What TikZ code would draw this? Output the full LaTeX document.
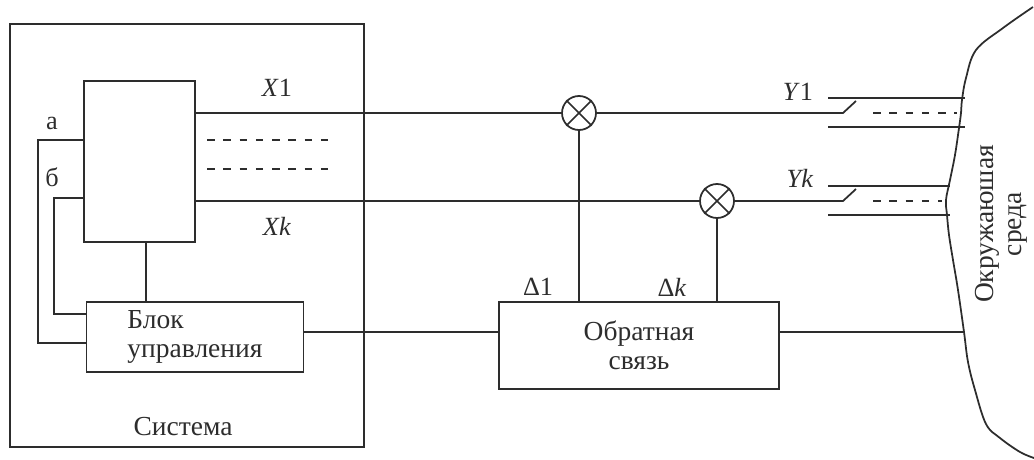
\documentclass[tikz,border=0pt]{standalone}
\usepackage{fontspec}
\setmainfont{Liberation Serif}
\usetikzlibrary{positioning}

\definecolor{ink}{RGB}{45,45,45}

\begin{document}
\begin{tikzpicture}[x=0.4pt, y=-0.4pt, ink, line width=0.7pt,
  every node/.style={font=\fontsize{11}{11.6}\selectfont, text=ink},
  box/.style={rectangle, draw, inner sep=1pt},
  mix/.style={circle, draw, minimum size=13.6pt, inner sep=0pt},
  lbl/.style={inner sep=1pt, font=\fontsize{10.5}{12}\selectfont},
  dsh/.style={dash pattern=on 3pt off 3.5pt}]
  \useasboundingbox (0,0) rectangle (1034,460);
  % System frame with the object and the control block
  \node[box, minimum width=141.6pt, minimum height=169.2pt] (sys) at (187,235.5) {};
  \node (systxt) at (183,427) {Система};
  \node[box, minimum width=44.4pt, minimum height=64.4pt] (obj) at (139.5,161.5) {};
  \node[box, minimum width=86.8pt, minimum height=28pt, align=left] (ctrl) at (195,337) {Блок\\управления};
  % Feedback block
  \node[box, minimum width=112pt, minimum height=34.8pt, align=center] (fb) at (639,345.5) {Обратная\\связь};
  % Comparators
  \node[mix] (m1) at (579,113) {};
  \node[mix] (m2) at (717,201) {};
  \foreach \m in {m1,m2}
    \draw (\m.north west) -- (\m.south east) (\m.north east) -- (\m.south west);
  % Outputs X1 ... Xk
  \draw (obj.east |- m1) -- (m1.west);
  \draw (obj.east |- m2) -- (m2.west);
  \draw[dsh] (207,140) -- (333,140);
  \draw[dsh] (207,169) -- (333,169);
  \node[lbl] (x1) at (277,88) {\textit{X}1};
  \node[lbl] (xk) at (277,226) {\textit{Xk}};
  % Control loops a and b
  \draw (obj.west |- 0,140) -- (38,140) |- (ctrl.west |- 0,343);
  \draw (obj.west |- 0,198) -- (54,198) |- (ctrl.west |- 0,314);
  \node[lbl] (la) at (52,123) {а};
  \node[lbl] (lb) at (52,177) {б};
  \draw (obj.south -| 146,0) -- (146,0 |- ctrl.north);
  % Feedback paths
  \draw (m1.south) -- (m1.south |- fb.north);
  \draw (m2.south) -- (m2.south |- fb.north);
  \node[lbl] (d1) at (538,287) {Δ1};
  \node[lbl] (dk) at (672,287) {Δ\textit{k}};
  \draw (ctrl.east |- 0,332) -- (fb.west |- 0,332);
  % Switches Y1 ... Yk
  \foreach \m/\yy/\ee in {m1/113/965, m2/201/950} {
    \draw (\m.east) -- (843,\yy) -- (856,\yy-12);
    \draw (828,\yy-15) -- (\ee,\yy-15);
    \draw[dsh] (873,\yy) -- (\ee-8,\yy);
    \draw (828,\yy+14) -- (\ee,\yy+14);
  }
  \node[lbl] (y1) at (798,92) {\textit{Y}1};
  \node[lbl] (yk) at (800,178) {\textit{Yk}};
  % Environment
  \coordinate (envin) at (964,332);
  \draw (fb.east |- envin) -- (envin);
  \draw plot[smooth, tension=0.6] coordinates {(1033,7) (1003,28) (976,50) (966,78)
    (962,100) (961,113) (959,128) (955,155) (950,180) (946,200) (947,215) (949,235)
    (953,260) (958,290) (964,332) (968,362) (975,390) (986,424) (1000,438) (1020,452) (1034,458)};
  \node[rotate=90, align=center, font=\fontsize{11}{11.2}\selectfont] (env) at (1001,224) {Окружаюшая\\среда};
\end{tikzpicture}
\end{document}
